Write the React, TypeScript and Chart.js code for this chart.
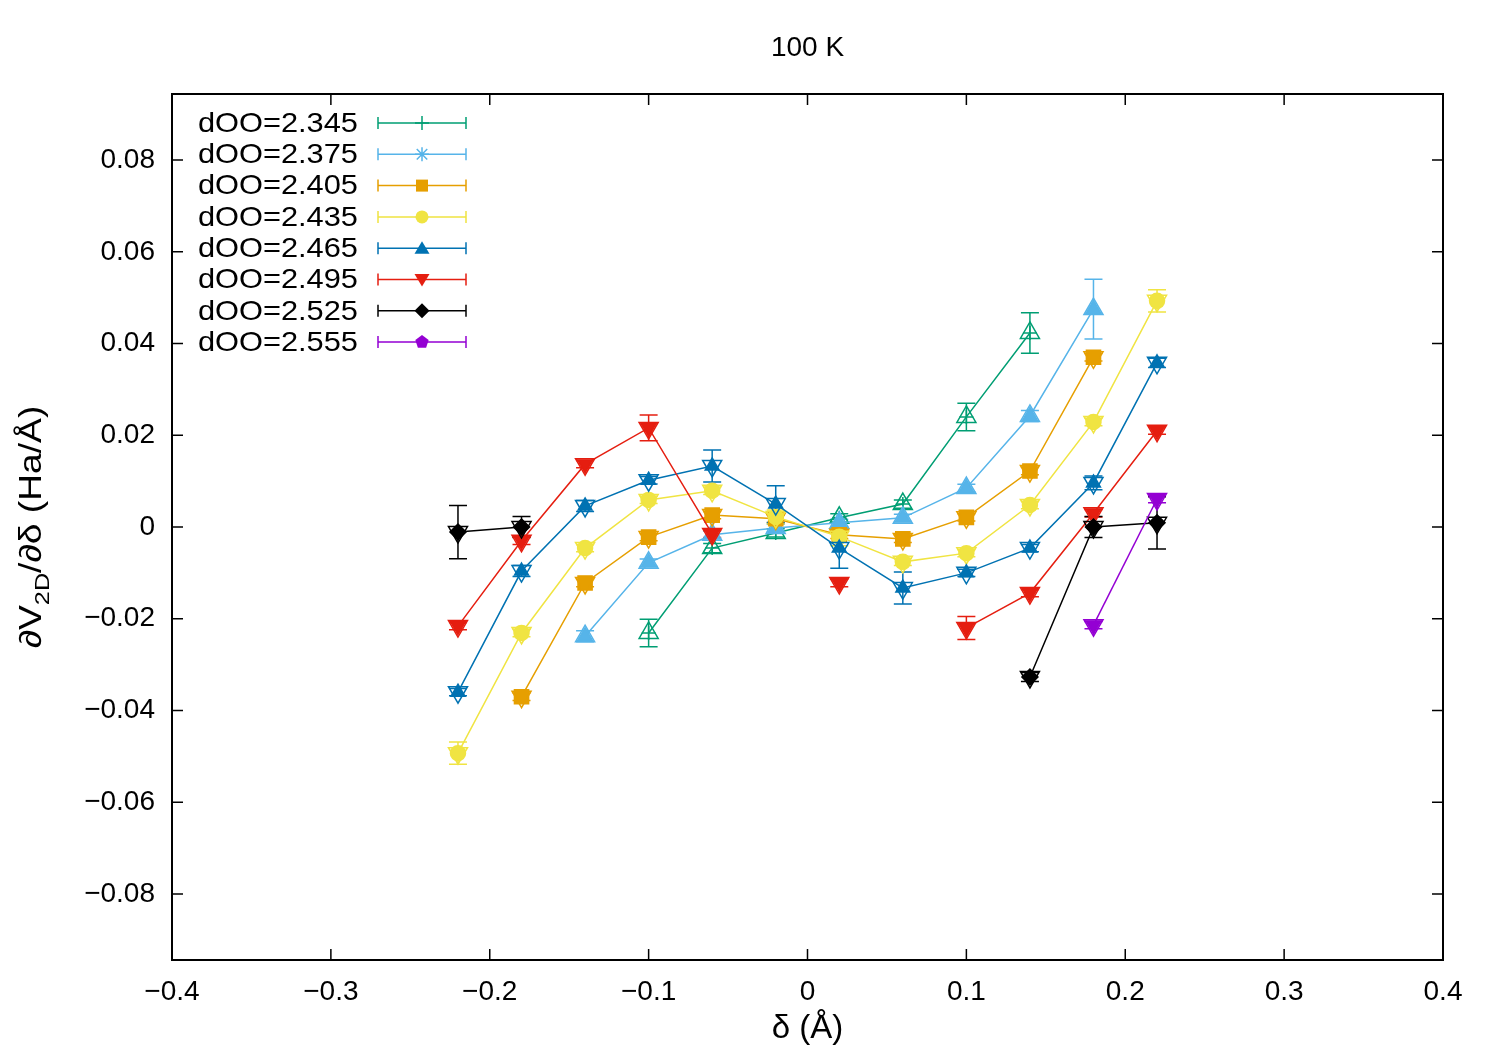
import { useEffect, useRef } from 'react'
import { Chart, registerables } from 'chart.js'

Chart.register(...registerables)

// --- data ---
const deltas = [-0.22, -0.18, -0.14, -0.1, -0.06, -0.02, 0.02, 0.06, 0.1, 0.14, 0.18, 0.22]

const seriesLabels = ['dOO=2.345', 'dOO=2.375', 'dOO=2.405', 'dOO=2.435', 'dOO=2.465', 'dOO=2.495', 'dOO=2.525', 'dOO=2.555']

const dOO2345 = [null, null, null, -0.0231, -0.0046, -0.0013, 0.002, 0.005, 0.024, 0.0423, null, null]
const err2345 = [0, 0, 0, 0.003, 0.001, 0.0009, 0.0009, 0.0009, 0.003, 0.0044, 0, 0]

const dOO2375 = [null, null, -0.0238, -0.0078, -0.0017, -0.0002, 0.0009, 0.002, 0.0085, 0.0242, 0.0475, null]
const err2375 = [0, 0, 0.0012, 0.0008, 0.0008, 0.0008, 0.0008, 0.0008, 0.0008, 0.0012, 0.0065, 0]

const dOO2405 = [null, -0.037, -0.0122, -0.0022, 0.0026, 0.0018, -0.0017, -0.0026, 0.0021, 0.0122, 0.037, null]
const err2405 = [0, 0.0008, 0.0008, 0.0008, 0.0008, 0.0008, 0.0008, 0.0008, 0.0008, 0.0008, 0.0008, 0]

const dOO2435 = [-0.0493, -0.0231, -0.0046, 0.0059, 0.0079, 0.0022, -0.0021, -0.0076, -0.0057, 0.0048, 0.0229, 0.0493]
const err2435 = [0.0024, 0.0008, 0.0008, 0.0008, 0.0008, 0.0015, 0.002, 0.0008, 0.0008, 0.0008, 0.0008, 0.0024]

const dOO2465 = [-0.036, -0.0096, 0.0046, 0.0102, 0.0133, 0.005, -0.0046, -0.0133, -0.010, -0.0046, 0.0096, 0.0358]
const err2465 = [0.0008, 0.0012, 0.0012, 0.0008, 0.0035, 0.004, 0.0044, 0.0035, 0.0008, 0.0008, 0.0015, 0.001]

const dOO2495 = [-0.0216, -0.003, 0.0137, 0.0216, -0.0015, null, -0.0122, null, -0.022, -0.0144, 0.003, 0.021]
const err2495 = [0.0008, 0.0008, 0.0008, 0.0028, 0.0008, 0, 0.0008, 0, 0.0025, 0.0008, 0.0008, 0.0008]

const dOO2525 = [-0.0011, 0.0, null, null, null, null, null, null, null, -0.0327, 0.0, 0.0009]
const err2525 = [0.0058, 0.0023, 0, 0, 0, 0, 0, 0, 0, 0.001, 0.0023, 0.0057]

const dOO2555 = [null, null, null, null, null, null, null, null, null, null, -0.0214, 0.0061]
const err2555 = [0, 0, 0, 0, 0, 0, 0, 0, 0, 0, 0.0008, 0.0008]

const seriesValues = [dOO2345, dOO2375, dOO2405, dOO2435, dOO2465, dOO2495, dOO2525, dOO2555]
const seriesErrors = [err2345, err2375, err2405, err2435, err2465, err2495, err2525, err2555]

const xTickValues = [-0.4, -0.3, -0.2, -0.1, 0, 0.1, 0.2, 0.3, 0.4]
const yTickValues = [-0.08, -0.06, -0.04, -0.02, 0, 0.02, 0.04, 0.06, 0.08]

// --- styling ---
const colors = ['#009e73', '#56b4e9', '#e69f00', '#f0e442', '#0072b2', '#e51e10', '#000000', '#9400d3']
const mainStyles = ['cross', 'triangle', 'rect', 'circle', 'triangle', 'triangle', 'rectRot', 'triangle']
const mainRotation = [0, 0, 0, 0, 0, 180, 0, 180]
const mainRadius = [7, 8.5, 10, 7.5, 8, 8.5, 8, 8.5]
const mainFilled = [false, true, true, true, true, true, true, true]
const overlayRotation = [0, 0, 180, 180, 180, 180, 180, 180]
const legendMarkers = ['plus', 'star', 'square', 'circle', 'triUp', 'triDown', 'diamond', 'pentagon']

const FONT = '"Liberation Sans", Arial, Helvetica, sans-serif'

function fmtY(v: number) {
  if (Math.abs(v) < 1e-9) return '0'
  return (v < 0 ? '\u2212' : '') + Math.abs(v).toFixed(2)
}
function fmtX(v: number) {
  if (Math.abs(v) < 1e-9) return '0'
  return (v < 0 ? '\u2212' : '') + Math.abs(v).toFixed(1)
}

function drawLegendMarker(ctx: CanvasRenderingContext2D, kind: string, x: number, y: number, color: string) {
  ctx.save()
  ctx.strokeStyle = color
  ctx.fillStyle = color
  ctx.lineWidth = 1.5
  ctx.beginPath()
  const r = 7
  if (kind === 'plus') {
    ctx.moveTo(x, y - r); ctx.lineTo(x, y + r)
    ctx.moveTo(x - r, y); ctx.lineTo(x + r, y)
    ctx.stroke()
  } else if (kind === 'star') {
    ctx.moveTo(x, y - r); ctx.lineTo(x, y + r)
    ctx.moveTo(x - r, y); ctx.lineTo(x + r, y)
    ctx.moveTo(x - r * 0.75, y - r * 0.75); ctx.lineTo(x + r * 0.75, y + r * 0.75)
    ctx.moveTo(x - r * 0.75, y + r * 0.75); ctx.lineTo(x + r * 0.75, y - r * 0.75)
    ctx.stroke()
  } else if (kind === 'square') {
    ctx.rect(x - 6, y - 6, 12, 12)
    ctx.fill()
  } else if (kind === 'circle') {
    ctx.arc(x, y, 6.5, 0, Math.PI * 2)
    ctx.fill()
  } else if (kind === 'triUp') {
    ctx.moveTo(x, y - 7); ctx.lineTo(x + 7.5, y + 5.5); ctx.lineTo(x - 7.5, y + 5.5); ctx.closePath()
    ctx.fill()
  } else if (kind === 'triDown') {
    ctx.moveTo(x, y + 7); ctx.lineTo(x + 7.5, y - 5.5); ctx.lineTo(x - 7.5, y - 5.5); ctx.closePath()
    ctx.fill()
  } else if (kind === 'diamond') {
    ctx.moveTo(x, y - 7.5); ctx.lineTo(x + 7.5, y); ctx.lineTo(x, y + 7.5); ctx.lineTo(x - 7.5, y); ctx.closePath()
    ctx.fill()
  } else if (kind === 'pentagon') {
    for (let k = 0; k < 5; k++) {
      const a = -Math.PI / 2 + (k * 2 * Math.PI) / 5
      const px = x + Math.cos(a) * 7
      const py = y + Math.sin(a) * 7
      if (k === 0) ctx.moveTo(px, py)
      else ctx.lineTo(px, py)
    }
    ctx.closePath()
    ctx.fill()
  }
  ctx.restore()
}

const errorBarPlugin = {
  id: 'errorBars',
  beforeDatasetsDraw(chart: any) {
    const { ctx, scales } = chart
    const xs = scales.x
    const ys = scales.y
    ctx.save()
    ctx.lineWidth = 1.5
    chart.data.datasets.forEach((ds: any) => {
      if (!ds.errors) return
      ctx.strokeStyle = ds.borderColor
      ds.data.forEach((p: any, i: number) => {
        const e = ds.errors[i]
        if (p.y === null || !e) return
        const px = xs.getPixelForValue(p.x)
        const top = ys.getPixelForValue(p.y + e)
        const bot = ys.getPixelForValue(p.y - e)
        ctx.beginPath()
        ctx.moveTo(px, top); ctx.lineTo(px, bot)
        ctx.moveTo(px - 9, top); ctx.lineTo(px + 9, top)
        ctx.moveTo(px - 9, bot); ctx.lineTo(px + 9, bot)
        ctx.stroke()
      })
    })
    ctx.restore()
  },
}

const framePlugin = {
  id: 'gnuFrame',
  afterDraw(chart: any) {
    const { ctx, chartArea, scales } = chart
    const { left, right, top, bottom } = chartArea
    ctx.save()
    ctx.strokeStyle = '#000'
    ctx.lineWidth = 1.5
    ctx.beginPath()
    xTickValues.forEach((v) => {
      const px = scales.x.getPixelForValue(v)
      ctx.moveTo(px, bottom); ctx.lineTo(px, bottom - 11)
      ctx.moveTo(px, top); ctx.lineTo(px, top + 11)
    })
    yTickValues.forEach((v) => {
      const py = scales.y.getPixelForValue(v)
      ctx.moveTo(left, py); ctx.lineTo(left + 11, py)
      ctx.moveTo(right, py); ctx.lineTo(right - 11, py)
    })
    ctx.stroke()
    ctx.lineWidth = 2
    ctx.strokeRect(left, top, right - left, bottom - top)

    // legend, gnuplot style (text slightly widened like the reference)
    ctx.font = `28px ${FONT}`
    ctx.textAlign = 'right'
    ctx.textBaseline = 'middle'
    seriesLabels.forEach((label, i) => {
      const yy = top + 29 + i * 31.3
      ctx.save()
      ctx.fillStyle = '#000'
      ctx.translate(left + 186, yy + 1)
      ctx.scale(1.1, 1)
      ctx.fillText(label, 0, 0)
      ctx.restore()
      ctx.strokeStyle = colors[i]
      ctx.lineWidth = 1.5
      ctx.beginPath()
      ctx.moveTo(left + 206, yy); ctx.lineTo(left + 294, yy)
      ctx.moveTo(left + 206, yy - 6); ctx.lineTo(left + 206, yy + 6)
      ctx.moveTo(left + 294, yy - 6); ctx.lineTo(left + 294, yy + 6)
      ctx.stroke()
      drawLegendMarker(ctx, legendMarkers[i], left + 250, yy, colors[i])
    })

    // y-axis title with subscript
    const big = `31px ${FONT}`
    const small = `21px ${FONT}`
    const parts: [string, string, number][] = [
      ['\u2202V', big, 0],
      ['2D', small, 8],
      ['/\u2202\u03b4 (Ha/\u00c5)', big, 0],
    ]
    let total = 0
    parts.forEach(([t, f]) => { ctx.font = f; total += ctx.measureText(t).width })
    ctx.translate(30, (top + bottom) / 2)
    ctx.rotate(-Math.PI / 2)
    ctx.scale(1.2, 1)
    ctx.textAlign = 'left'
    ctx.textBaseline = 'alphabetic'
    ctx.fillStyle = '#000'
    let cx = -total / 2
    parts.forEach(([t, f, dy]) => {
      ctx.font = f
      ctx.fillText(t, cx, 11 + dy)
      cx += ctx.measureText(t).width
    })
    ctx.restore()
  },
}

export default function App() {
  const canvasRef = useRef<HTMLCanvasElement>(null)
  const chartRef = useRef<Chart | null>(null)

  useEffect(() => {
    document.body.style.margin = '0'
    if (!canvasRef.current) return
    const ctx = canvasRef.current.getContext('2d')
    if (!ctx) return

    const datasets: any[] = []
    seriesValues.forEach((vals, i) => {
      const pts = deltas.map((d, k) => ({ x: d, y: vals[k] }))
      datasets.push({
        type: 'line',
        label: seriesLabels[i],
        data: pts,
        errors: seriesErrors[i],
        borderColor: colors[i],
        backgroundColor: colors[i],
        borderWidth: 1.5,
        pointStyle: mainStyles[i],
        pointRotation: mainRotation[i],
        pointRadius: mainRadius[i],
        pointBackgroundColor: mainFilled[i] ? colors[i] : 'rgba(0,0,0,0)',
        pointBorderColor: colors[i],
        pointBorderWidth: 1.5,
        pointHoverRadius: mainRadius[i],
        spanGaps: false,
        tension: 0,
        fill: false,
        order: 100 - i * 2,
      })
      datasets.push({
        type: 'line',
        label: seriesLabels[i] + ' marker',
        data: pts,
        showLine: false,
        borderColor: colors[i],
        pointStyle: 'triangle',
        pointRotation: overlayRotation[i],
        pointRadius: 11,
        pointBackgroundColor: 'rgba(0,0,0,0)',
        pointBorderColor: colors[i],
        pointBorderWidth: 1.5,
        order: 99 - i * 2,
      })
    })

    Chart.defaults.font.family = FONT
    Chart.defaults.color = '#000'

    chartRef.current = new Chart(ctx, {
      type: 'line',
      data: { datasets },
      options: {
        responsive: false,
        animation: false,
        devicePixelRatio: 1,
        layout: { padding: { left: 0, right: 57, top: 0, bottom: 0 } },
        plugins: {
          legend: { display: false },
          tooltip: { enabled: false },
          title: {
            display: true,
            fullSize: false,
            text: '100 K',
            color: '#000',
            font: { size: 28, weight: 'normal', family: FONT },
            padding: { top: 31, bottom: 29.4 },
          },
        },
        scales: {
          x: {
            type: 'linear',
            min: -0.4,
            max: 0.4,
            afterBuildTicks: (s: any) => { s.ticks = xTickValues.map((v) => ({ value: v })) },
            afterFit: (s: any) => { s.height = 90 },
            ticks: {
              callback: (v: any) => fmtX(Number(v)),
              color: '#000',
              font: { size: 28, family: FONT },
              padding: 15,
              maxRotation: 0,
              autoSkip: false,
            },
            grid: { display: false, drawTicks: false },
            border: { display: false },
            title: {
              display: true,
              text: '\u03b4 (\u00c5)',
              color: '#000',
              font: { size: 33, family: FONT },
              padding: { top: 0, bottom: 1 },
            },
          },
          y: {
            type: 'linear',
            min: -0.0944,
            max: 0.0944,
            afterBuildTicks: (s: any) => { s.ticks = yTickValues.map((v) => ({ value: v })) },
            afterFit: (s: any) => { s.width = 172 },
            ticks: {
              callback: (v: any) => fmtY(Number(v)),
              color: '#000',
              font: { size: 28, family: FONT },
              padding: 17,
              autoSkip: false,
            },
            grid: { display: false, drawTicks: false },
            border: { display: false },
          },
        },
      } as any,
      plugins: [errorBarPlugin, framePlugin],
    })

    return () => {
      if (chartRef.current) {
        chartRef.current.destroy()
        chartRef.current = null
      }
    }
  }, [])

  return (
    <div style={{ width: '1500px', height: '1050px', background: '#fff' }}>
      <canvas ref={canvasRef} width={1500} height={1050} />
    </div>
  )
}
